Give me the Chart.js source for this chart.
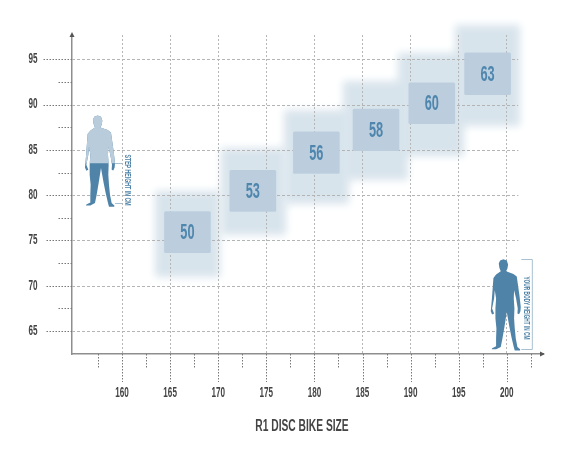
<!DOCTYPE html>
<html><head><meta charset="utf-8">
<style>html,body{margin:0;padding:0;background:#fff}canvas{display:block}</style>
<script src="https://cdn.jsdelivr.net/npm/chart.js@4"></script></head>
<body><canvas id="c" width="575" height="455"></canvas>
<script>
const sizes = ['50','53','56','58','60','63'];
const innerCenterX = [166.8,173.6,180.2,186.4,192.2,198.0];
const innerLow  = [73.65,78.2,82.4,84.9,87.9,91.1];
const innerHigh = [78.2,82.75,87.0,89.5,92.4,95.7];
const outerCenterX = [166.8,173.65,180.2,186.35,192.1,198.0];
const outerLow  = [71.0,75.6,79.05,81.7,84.4,87.7];
const outerHigh = [80.4,85.2,89.4,92.6,95.7,98.8];
const xTicks = [157.5,160,162.5,165,167.5,170,172.5,175,177.5,180,182.5,185,187.5,190,192.5,195,197.5,200,202.5];
const yTicks = [65,67.5,70,72.5,75,77.5,80,82.5,85,87.5,90,92.5,95];
const xAxisTitle = 'R1 DISC BIKE SIZE';
const stepNote = 'STEP HEIGHT IN CM';
const bodyNote = 'YOUR BODY HEIGHT IN CM';

const FONT = '"Liberation Sans",sans-serif';
const canvas = document.getElementById('c');
const ctx0 = canvas.getContext('2d');
// the reference face is much narrower than any installed one: squeeze all text horizontally
const rawFill = ctx0.fillText.bind(ctx0);
ctx0.fillText = function(t,x,y){
  const f = t===xAxisTitle ? 0.64 : t===bodyNote ? 0.53 : 0.58;
  const dx = t===xAxisTitle ? -5.5 : 0;
  ctx0.save(); ctx0.translate(x+dx,y); ctx0.scale(f,1); rawFill(t,0,0); ctx0.restore();
};

const FIG = [[100,42],[110,46],[114,58],[112,70],[108,78],[130,86],[140,94],[143,115],[148,150],[152,185],[151,198],[147,207],[142,205],[143,190],[138,160],[132,135],[131,160],[133,190],[132,220],[134,250],[137,280],[142,305],[150,312],[150,316],[134,316],[131,305],[124,275],[118,245],[110,200],[103,245],[97,280],[92,305],[78,312],[65,312],[66,309],[78,303],[78,280],[79,250],[76,220],[76,190],[78,160],[74,135],[72,160],[66,190],[72,205],[66,208],[62,198],[65,165],[68,125],[70,98],[78,88],[92,78],[88,68],[86,55],[90,46]];
function figure(ctx,left,top,waist,upper,lower){
  ctx.save();
  const p=new Path2D();
  FIG.forEach((q,i)=>{const X=left+(q[0]-62)/3,Y=top+(q[1]-42)/3; i?p.lineTo(X,Y):p.moveTo(X,Y);});
  p.closePath();
  ctx.fillStyle=lower; ctx.fill(p);
  if(upper){ctx.save();ctx.beginPath();ctx.rect(left-2,top-2,40,waist-top+2);ctx.clip();ctx.fillStyle=upper;ctx.fill(p);ctx.restore();}
  ctx.restore();
}
const art = {
  id:'art',
  beforeDraw(c){const x=c.ctx;x.save();x.fillStyle='#fff';x.fillRect(0,0,575,455);x.restore();},
  beforeDatasetsDraw(c){
    const {ctx,scales:{x,y}}=c;
    ctx.save();
    ctx.strokeStyle='#b4b4b4';ctx.lineWidth=1;ctx.setLineDash([3,2]);
    yTicks.filter(v=>v%5===0).forEach(v=>{const p=Math.round(y.getPixelForValue(v))+.5;ctx.beginPath();ctx.moveTo(x.left,p);ctx.lineTo(x.getPixelForValue(201.2),p);ctx.stroke();});
    ctx.strokeStyle='#777';ctx.setLineDash([1.5,1.5]);
    yTicks.forEach(v=>{const p=Math.round(y.getPixelForValue(v))+.5,len=v%5===0?(v>=90?29:27):14;ctx.beginPath();ctx.moveTo(x.left,p);ctx.lineTo(x.left-len,p);ctx.stroke();});
    xTicks.forEach(v=>{const p=Math.round(x.getPixelForValue(v))+.5,len=v%5===0?28:14;ctx.beginPath();ctx.moveTo(p,y.bottom);ctx.lineTo(p,y.bottom+len);ctx.stroke();});
    ctx.restore();
  },
  // soft halo: bars are drawn off-canvas so that only their blurred shadow lands on the page
  beforeDatasetDraw(c,a){ if(a.index===0){const k=c.ctx;k.save();k.globalCompositeOperation='darken';k.shadowColor='#d8e4ec';k.shadowBlur=8;k.shadowOffsetX=2000;k.translate(-2000,0);} },
  afterDatasetDraw(c,a){ if(a.index===0){c.ctx.restore();} },
  afterDraw(c){
    const {ctx,scales:{x,y}}=c;
    ctx.save();
    ctx.fillStyle='#555';
    ctx.beginPath();ctx.moveTo(x.left,y.top-3);ctx.lineTo(x.left-2.5,y.top+2);ctx.lineTo(x.left+2.5,y.top+2);ctx.fill();
    ctx.beginPath();ctx.moveTo(x.right+2,y.bottom);ctx.lineTo(x.right-3,y.bottom-2.5);ctx.lineTo(x.right-3,y.bottom+2.5);ctx.fill();
    ctx.fillStyle='#4f86ad';ctx.font='bold 22px '+FONT;ctx.textAlign='center';ctx.textBaseline='middle';
    c.getDatasetMeta(1).data.forEach((b,i)=>{const q=b.getCenterPoint();ctx.fillText(sizes[i],q.x,q.y+1);});
    const fx1=x.getPixelForValue(156.15),fy1=y.getPixelForValue(88.8);
    figure(ctx,fx1,fy1,fy1+47.7,'#b9ccdc','#4f83a8');
    const fx2=x.getPixelForValue(198.33),fy2=y.getPixelForValue(72.93);
    figure(ctx,fx2,fy2,0,null,'#4f83a8');
    ctx.strokeStyle='#a9c0d0';ctx.lineWidth=1;
    const s1=y.getPixelForValue(83.59),s2=y.getPixelForValue(79.1),sx=x.getPixelForValue(160);
    ctx.beginPath();ctx.moveTo(sx-7,Math.round(s1)+.5);ctx.lineTo(sx,Math.round(s1)+.5);ctx.moveTo(sx-7,Math.round(s2)+.5);ctx.lineTo(sx,Math.round(s2)+.5);ctx.stroke();
    const b1=y.getPixelForValue(72.93),b2=y.getPixelForValue(63.0),bx=x.getPixelForValue(202.65);
    ctx.beginPath();ctx.moveTo(bx-11,Math.round(b1)+.5);ctx.lineTo(bx,Math.round(b1)+.5);ctx.lineTo(bx,Math.round(b2)+.5);ctx.lineTo(bx-11,Math.round(b2)+.5);ctx.stroke();
    ctx.fillStyle='#4f83a8';ctx.font='bold 9px '+FONT;
    ctx.save();ctx.translate(sx+5.5,(s1+s2)/2-3);ctx.rotate(Math.PI/2);ctx.fillText(stepNote,0,0);ctx.restore();
    ctx.save();ctx.translate(bx-6.3,(b1+b2)/2+3.7);ctx.rotate(Math.PI/2);ctx.fillText(bodyNote,0,0);ctx.restore();
    ctx.restore();
  }
};
new Chart(ctx0,{
  type:'bar',
  data:{datasets:[
    {data:outerCenterX.map((v,i)=>({x:v,y:[outerLow[i],outerHigh[i]]})),backgroundColor:'#d8e4ec',barThickness:65,grouped:false,order:2,clip:false},
    {data:innerCenterX.map((v,i)=>({x:v,y:[innerLow[i],innerHigh[i]]})),backgroundColor:'#bccede',barThickness:46,borderRadius:1.5,borderSkipped:false,grouped:false,order:1,clip:false}
  ]},
  options:{
    responsive:false,animation:false,
    layout:{padding:{left:0,top:35,right:32,bottom:0}},
    plugins:{legend:{display:false},tooltip:{enabled:false},title:{display:false}},
    scales:{
      x:{type:'linear',min:154.8,max:203.76,offset:false,
        afterBuildTicks:s=>{s.ticks=xTicks.map(v=>({value:v}));},
        afterFit:s=>{s.height=101;s.paddingLeft=0;s.paddingRight=0;},
        border:{display:true,color:'#8e8e8e',width:1.5,dash:[2,2]},
        grid:{display:true,offset:false,drawTicks:true,tickLength:30,tickColor:'transparent',lineWidth:1,
          color:k=>(k.tick&&k.tick.value%5===0)?'#b6b6b6':'transparent'},
        ticks:{autoSkip:false,maxRotation:0,minRotation:0,padding:1,color:'#444',font:{family:FONT,size:14,weight:'bold'},
          callback:v=>v%5===0?String(v):''},
        title:{display:true,text:xAxisTitle,color:'#444',font:{family:FONT,size:16,weight:'bold'},padding:{top:16,bottom:19}}
      },
      y:{type:'linear',min:62.47,max:97.68,
        afterBuildTicks:s=>{s.ticks=yTicks.map(v=>({value:v}));},
        afterFit:s=>{s.width=72;s.paddingTop=0;s.paddingBottom=0;},
        border:{display:true,color:'#8e8e8e',width:1.5},
        grid:{display:false,drawTicks:false},
        ticks:{autoSkip:false,padding:34.5,color:'#444',font:{family:FONT,size:14,weight:'bold'},
          callback:v=>v%5===0?String(v):''}
      }
    }
  },
  plugins:[art]
});
</script></body></html>
